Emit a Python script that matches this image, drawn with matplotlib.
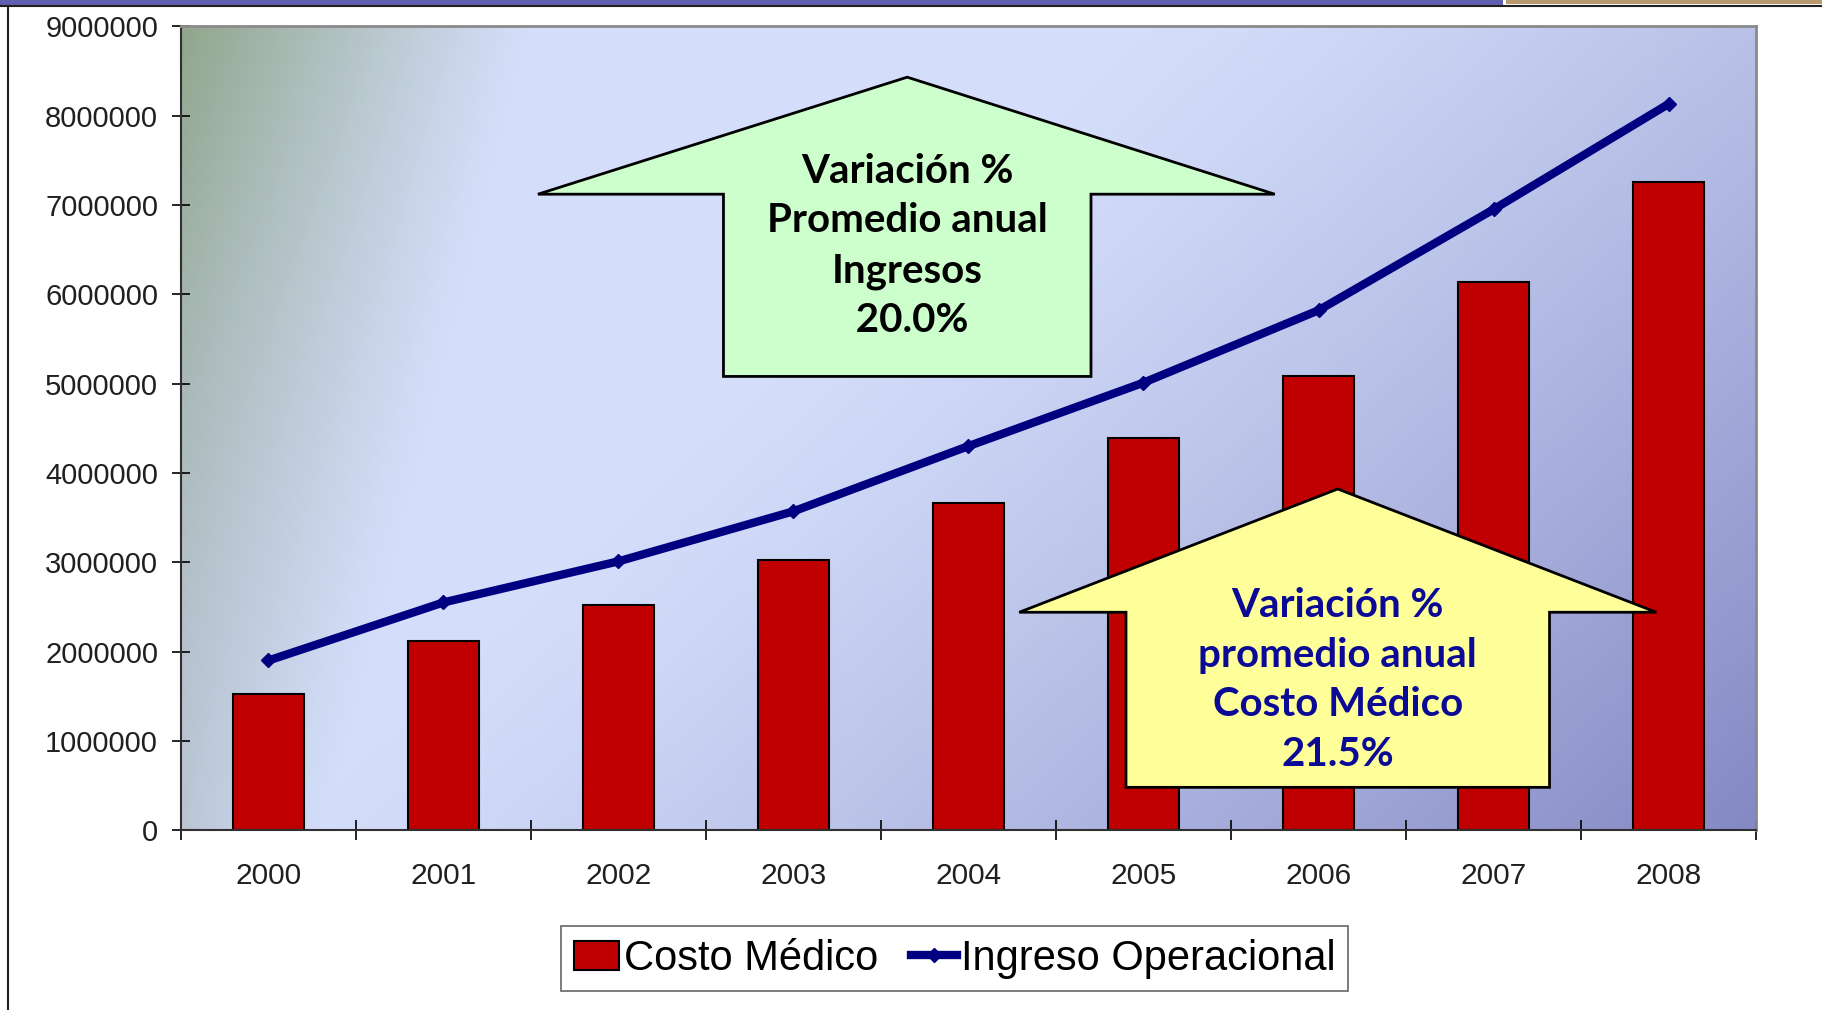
import numpy as np
import matplotlib.pyplot as plt
from matplotlib.patches import Polygon, Rectangle
from matplotlib.lines import Line2D

# datos
years = ['2000', '2001', '2002', '2003', '2004', '2005', '2006', '2007', '2008']
costo_medico = [1530000, 2120000, 2520000, 3030000, 3660000, 4390000, 5090000, 6140000, 7260000]
ingreso_operacional = [1900000, 2550000, 3010000, 3570000, 4300000, 5010000, 5820000, 6950000, 8130000]
yticks = [0, 1000000, 2000000, 3000000, 4000000, 5000000, 6000000, 7000000, 8000000, 9000000]

texto_ingresos = 'Variación %\nPromedio anual\nIngresos\n 20.0%'
texto_costo = 'Variación %\npromedio anual\nCosto Médico\n21.5%'

fig = plt.figure(figsize=(18.22, 10.10), dpi=100)
ax = fig.add_axes([0.0993, 0.178, 0.8645, 0.796])

x = np.arange(len(years))

# fondo degradado (verde arriba-izquierda, azul claro al centro, violeta abajo-derecha)
nx, ny = 400, 200
gx, gy = np.meshgrid(np.linspace(0, 1, nx), np.linspace(1, 0, ny))
light = np.array([212, 222, 250]) / 255
green = np.array([145, 166, 140]) / 255
gray = np.array([186, 197, 212]) / 255
purple = np.array([132, 136, 196]) / 255
edge = green * gy[..., None] ** 1.5 + gray * (1 - gy[..., None] ** 1.5)
w_left = np.clip(1 - gx / (0.09 + 0.13 * gy), 0, 1) ** 1.1
w_purple = np.clip((gx + (1 - gy) * 0.55 - 0.62) / 0.93, 0, 1) ** 1.2
img = light[None, None, :] * np.ones((ny, nx, 1))
img = img * (1 - w_purple[..., None]) + purple * w_purple[..., None]
img = img * (1 - w_left[..., None]) + edge * w_left[..., None]
ax.imshow(img, extent=[0, 1, 0, 1], transform=ax.transAxes, aspect='auto', zorder=0)

# barras y línea
barras = ax.bar(x, costo_medico, width=0.41, color='#C00000', edgecolor='black', linewidth=1.5,
                zorder=2, label='Costo Médico')
linea, = ax.plot(x, ingreso_operacional, color='#000080', linewidth=6, marker='D', markersize=7,
                 zorder=3, label='Ingreso Operacional')

ax.set_xlim(-0.5, 8.5)
ax.set_ylim(0, 9000000)
ax.set_yticks(yticks)
ax.set_yticklabels([str(v) for v in yticks])
ax.set_xticks(np.arange(len(years) + 1) - 0.5)
ax.set_xticklabels([])
ax.set_xticks(x, minor=True)
ax.set_xticklabels(years, minor=True)

ax.tick_params(axis='y', direction='inout', length=13, width=1.2, pad=10,
               labelsize=21, labelcolor='#202020')
ax.tick_params(axis='x', which='major', direction='inout', length=14, width=1.2)
ax.tick_params(axis='x', which='minor', length=0, pad=23, labelsize=21.5, labelcolor='#202020')
for lab in ax.get_xticklabels(minor=True) + ax.get_yticklabels():
    lab.set_family('Liberation Sans')

for s in ['left', 'bottom']:
    ax.spines[s].set_color('#303030')
    ax.spines[s].set_linewidth(1.5)
for s in ['top', 'right']:
    ax.spines[s].set_color('#8a8a8a')
    ax.spines[s].set_linewidth(2)

# flecha verde (ingresos)
flecha_verde = Polygon([(3.65, 8430000), (5.75, 7120000), (4.70, 7120000), (4.70, 5080000),
                        (2.60, 5080000), (2.60, 7120000), (1.54, 7120000)],
                       closed=True, facecolor='#CCFFCC', edgecolor='black', linewidth=2, zorder=4)
ax.add_patch(flecha_verde)
ax.text(3.65, 6540000, texto_ingresos, ha='center', va='center', fontsize=29,
        fontweight='bold', family='Lato', color='black', linespacing=1.42, zorder=5)

# flecha amarilla (costo médico)
flecha_amarilla = Polygon([(6.11, 3820000), (7.93, 2440000), (7.32, 2440000), (7.32, 480000),
                           (4.90, 480000), (4.90, 2440000), (4.29, 2440000)],
                          closed=True, facecolor='#FFFF99', edgecolor='black', linewidth=2, zorder=4)
ax.add_patch(flecha_amarilla)
ax.text(6.11, 1680000, texto_costo, ha='center', va='center', fontsize=29,
        fontweight='bold', family='Lato', color='#0A0A96', linespacing=1.42, zorder=5)

# leyenda
leg = fig.legend([barras, linea], ['Costo Médico', 'Ingreso Operacional'],
                 loc='center', bbox_to_anchor=(0.524, 0.0505), ncol=2, frameon=True,
                 fancybox=False, edgecolor='#404040', handlelength=1.1, handletextpad=0.1,
                 columnspacing=0.8, borderpad=0.3,
                 prop={'family': 'Liberation Sans', 'size': 30})
leg.get_frame().set_linewidth(1.2)

# marco de la diapositiva
fig.patches.append(Rectangle((0, 1 - 5 / 1010), 1503 / 1822, 5 / 1010, transform=fig.transFigure,
                             facecolor='#6060B0', edgecolor='none'))
fig.patches.append(Rectangle((1506 / 1822, 1 - 4 / 1010), 316 / 1822, 4 / 1010, transform=fig.transFigure,
                             facecolor='#B89A70', edgecolor='none'))
fig.lines.append(Line2D([0, 1], [1 - 6 / 1010, 1 - 6 / 1010], transform=fig.transFigure,
                        color='#202020', linewidth=1.5))
fig.lines.append(Line2D([8 / 1822, 8 / 1822], [0, 1 - 6 / 1010], transform=fig.transFigure,
                        color='#202020', linewidth=1.5))

plt.savefig('out.png', dpi=100)
